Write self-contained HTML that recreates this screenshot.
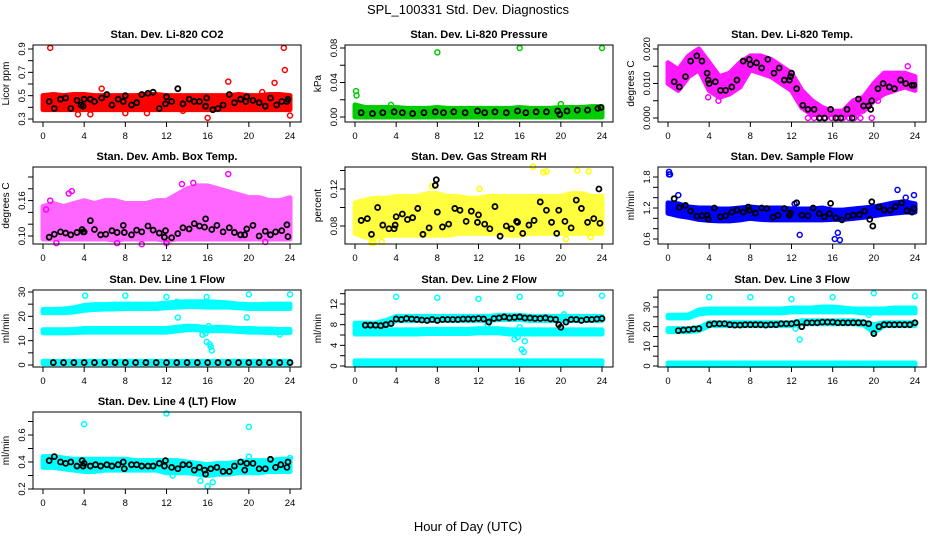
<!DOCTYPE html>
<html><head><meta charset="utf-8">
<style>
html,body{margin:0;padding:0;background:#fff;}
svg{display:block;font-family:"Liberation Sans",sans-serif;}
</style></head>
<body>
<svg id="chart" width="936" height="540" viewBox="0 0 936 540" xmlns="http://www.w3.org/2000/svg">
<text x="468" y="14" text-anchor="middle" font-size="13">SPL_100331  Std. Dev. Diagnostics</text>
<text x="468" y="531" text-anchor="middle" font-size="13">Hour of Day (UTC)</text>
</svg>
<script>
const bandHours = [0,1,2,3,4,5,6,7,8,9,10,11,12,13,14,15,16,17,18,19,20,21,22,23,24];
const xTicks = [0,4,8,12,16,20,24];

// Panel 1: CO2
const co2Lo = [0.38,0.38,0.38,0.38,0.38,0.38,0.38,0.38,0.38,0.38,0.38,0.38,0.38,0.38,0.38,0.38,0.38,0.38,0.38,0.38,0.38,0.38,0.38,0.38,0.38];
const co2Hi = [0.50,0.51,0.50,0.51,0.51,0.50,0.50,0.50,0.50,0.50,0.51,0.51,0.50,0.50,0.50,0.50,0.50,0.50,0.50,0.51,0.50,0.50,0.51,0.51,0.50];
const co2OutX = [0.7,23.4,23.5,22.5,18,24,16,3.4,4.6,5.7,10.1,8,13.6,21.3];
const co2OutY = [0.91,0.91,0.72,0.61,0.62,0.33,0.31,0.34,0.34,0.56,0.35,0.35,0.37,0.53];
const co2BlkX = [0.6,1.1,1.7,2.2,2.7,3.3,3.7,3.9,4,4.6,5,5.7,6.2,6.7,7.3,7.8,8,8.6,9.1,9.6,10.2,10.7,11.3,11.9,12,12.5,13.1,13.6,14.2,14.7,15.2,15.8,15.9,16.5,17,17.5,18.1,18.6,19.2,19.7,19.8,20.4,21,21.6,22.1,22.7,23.2,23.7,23.8];
const co2BlkY = [0.45,0.39,0.47,0.48,0.39,0.46,0.42,0.41,0.47,0.47,0.45,0.48,0.51,0.42,0.47,0.45,0.50,0.42,0.44,0.51,0.52,0.53,0.39,0.43,0.49,0.45,0.56,0.43,0.47,0.45,0.45,0.41,0.48,0.38,0.39,0.42,0.51,0.44,0.47,0.45,0.49,0.46,0.44,0.41,0.48,0.42,0.45,0.45,0.47];

// Panel 2: Pressure
const presLo = [0,0,0,0,0,0,0,0,0,0,0,0,0,0,0,0,0,0,0,0,0,0,0,0,0];
const presHi = [0.014,0.011,0.011,0.011,0.011,0.010,0.010,0.010,0.011,0.010,0.010,0.010,0.010,0.010,0.010,0.010,0.011,0.010,0.010,0.010,0.011,0.011,0.011,0.012,0.012];
const presOutX = [8,16,24,0.1,0.15,3.5,20];
const presOutY = [0.075,0.08,0.08,0.03,0.025,0.014,0.015];
const presBlkX = [0.6,1.7,2.7,3.8,4.6,5.6,6.7,7.8,8.6,9.6,10.7,11.9,12.6,13.6,14.7,15.8,16.6,17.6,18.6,19.7,19.9,20.6,21.6,22.6,23.6,23.9];
const presBlkY = [0.005,0.004,0.005,0.006,0.005,0.004,0.005,0.006,0.005,0.006,0.005,0.007,0.005,0.006,0.005,0.007,0.005,0.006,0.006,0.007,0.003,0.007,0.008,0.008,0.010,0.011];

// Panel 3: Li-820 Temp
const tmpLo = [0.010,0.008,0.012,0.014,0.008,0.006,0.007,0.009,0.014,0.013,0.012,0.010,0.008,0.003,0.001,0.001,0.001,0.001,0.001,0.002,0.005,0.007,0.008,0.009,0.008];
const tmpHi = [0.016,0.014,0.018,0.020,0.016,0.012,0.013,0.016,0.018,0.018,0.017,0.015,0.013,0.008,0.005,0.003,0.002,0.002,0.005,0.006,0.010,0.013,0.013,0.013,0.012];
const tmpOutX = [13.6,14.2,14.8,15.3,15.9,16.5,17,17.6,18.1,18.7,19.8,2.6,23.3,3.9,4.9,20.4];
const tmpOutY = [0,0,0,0,0,0,0,0,0,0,0,0.019,0.015,0.006,0.005,0.005];
const tmpBlkX = [0.6,1.1,1.7,2.2,2.8,3.3,3.8,3.9,4,4.6,5.1,5.6,6.2,6.7,7.3,7.9,8,8.6,9.1,9.7,10.3,10.8,11.3,11.8,11.9,12,12.5,13.1,13.6,14.2,14.7,15.2,15.8,16.3,16.8,17.4,17.9,18.5,19,19.5,19.7,19.8,20.4,20.9,21.5,22,22.6,23.1,23.7,23.9];
const tmpBlkY = [0.0105,0.009,0.012,0.0165,0.018,0.0165,0.013,0.011,0.010,0.0105,0.008,0.008,0.009,0.011,0.0165,0.017,0.0155,0.016,0.0145,0.017,0.013,0.0145,0.011,0.011,0.012,0.013,0.0085,0.0037,0.0025,0.0025,0,0,0.0025,0,0,0.0025,0,0.0055,0.0035,0.0035,0.0025,0.005,0.0085,0.010,0.009,0.0085,0.011,0.010,0.0095,0.0095];

// Panel 4: Amb. Box Temp
const ambLo = [0.095,0.095,0.095,0.095,0.095,0.095,0.095,0.093,0.095,0.095,0.095,0.095,0.092,0.095,0.095,0.095,0.095,0.095,0.095,0.095,0.095,0.095,0.095,0.095,0.095];
const ambHi = [0.150,0.155,0.150,0.155,0.160,0.155,0.160,0.160,0.155,0.155,0.155,0.160,0.160,0.170,0.180,0.185,0.185,0.180,0.175,0.170,0.165,0.165,0.160,0.160,0.165];
const ambOutX = [2.5,2.8,18,14.6,13.5,0.3,0.7,12,21.6,1.3,7.2,9.6];
const ambOutY = [0.172,0.176,0.205,0.19,0.188,0.145,0.16,0.088,0.09,0.088,0.088,0.086];
const ambBlkX = [0.6,1.1,1.7,2.2,2.7,3.3,3.8,3.9,4,4.6,5,5.6,6.1,6.7,7.2,7.8,7.9,8.6,9.1,9.6,10.2,10.7,11.3,11.8,11.9,12.5,13.1,13.6,14.2,14.7,15.2,15.7,15.8,16.4,16.9,17.5,18.1,18.6,19.2,19.6,19.8,20.4,21,21.6,22.1,22.6,23.2,23.7,23.8];
const ambBlkY = [0.098,0.103,0.107,0.105,0.102,0.106,0.111,0.107,0.107,0.126,0.111,0.102,0.103,0.109,0.106,0.118,0.106,0.102,0.110,0.107,0.117,0.110,0.105,0.098,0.109,0.097,0.104,0.114,0.112,0.121,0.117,0.115,0.129,0.111,0.118,0.107,0.114,0.106,0.102,0.102,0.112,0.118,0.100,0.108,0.102,0.107,0.109,0.119,0.099];

// Panel 5: Gas Stream RH
const rhLo = [0.072,0.068,0.068,0.070,0.070,0.070,0.070,0.070,0.070,0.070,0.072,0.072,0.072,0.072,0.072,0.070,0.070,0.072,0.072,0.072,0.072,0.072,0.072,0.072,0.072];
const rhHi = [0.105,0.108,0.110,0.110,0.112,0.112,0.112,0.115,0.115,0.112,0.112,0.110,0.110,0.112,0.112,0.112,0.112,0.112,0.112,0.112,0.112,0.115,0.115,0.112,0.112];
const rhOutX = [17.3,18.3,18.6,21.6,22.7,1.6,1.8,2.6,7.5,12.1,20.5,22.9];
const rhOutY = [0.144,0.138,0.139,0.14,0.139,0.062,0.062,0.063,0.123,0.12,0.066,0.068];
const rhBlkX = [0.6,1.2,1.6,2.2,2.7,3.3,3.8,3.9,4.0,4.6,5.1,5.6,6.1,6.6,7.2,7.8,7.9,8.0,8.5,9.1,9.7,10.2,10.8,11.3,11.9,12,12.6,13.1,13.6,14.1,14.7,15.2,15.7,15.8,16.3,16.9,17.4,18,18.6,19.1,19.6,19.8,20.4,21.0,21.5,22.0,22.6,23.2,23.7,23.8];
const rhBlkY = [0.086,0.088,0.071,0.10,0.081,0.077,0.077,0.081,0.090,0.093,0.087,0.089,0.099,0.071,0.078,0.124,0.13,0.095,0.079,0.082,0.099,0.097,0.085,0.096,0.084,0.092,0.082,0.077,0.101,0.069,0.080,0.077,0.085,0.084,0.072,0.081,0.086,0.106,0.097,0.084,0.072,0.097,0.085,0.078,0.108,0.099,0.084,0.088,0.12,0.083];

// Panel 6: Sample Flow
const sfLo = [1.10,1.05,1.02,0.98,0.96,0.95,0.95,0.97,1.00,0.98,0.97,0.97,0.97,0.97,0.97,0.97,0.98,0.98,1.00,1.02,1.05,1.08,1.10,1.12,1.12];
const sfHi = [1.30,1.28,1.22,1.20,1.20,1.18,1.18,1.20,1.22,1.20,1.20,1.20,1.18,1.18,1.18,1.20,1.16,1.16,1.18,1.20,1.22,1.26,1.30,1.32,1.28];
const sfOutX = [0.1,0.1,1,22.3,23.9,12.8,16.2,16.5,16.7,23.1,0.2,12.3];
const sfOutY = [1.9,1.85,1.45,1.55,1.45,0.68,0.6,0.72,0.58,1.40,1.85,1.28];
const sfBlkX = [0.6,1.1,1.7,2.2,2.8,3.3,3.8,3.9,4.5,5.1,5.6,6.2,6.7,7.3,7.8,7.9,8.5,9.1,9.6,10.2,10.7,11.3,11.8,11.9,12.5,13,13.6,14.1,14.7,15.2,15.7,15.8,16.3,16.9,17.5,18,18.6,19.1,19.6,19.8,19.9,20.5,21,21.6,22.1,22.7,23.2,23.7,23.9];
const sfBlkY = [1.38,1.21,1.25,1.14,1.04,1.05,1.06,0.99,1.20,1.03,1.05,1.12,1.16,1.12,1.22,1.16,1.10,1.20,1.19,1.02,1.06,1.19,1.06,1.10,1.30,1.06,1.05,1.20,1.09,1.03,1.09,1.29,1.01,0.97,1.04,1.06,1.07,1.14,0.98,1.32,0.85,1.22,1.16,1.16,1.23,1.30,1.15,1.12,1.19];

// Panel 7: Line 1 Flow
const l1aLo = [21.5,21.5,21.5,21.8,22.5,22.8,23,23,23.2,23.2,23.2,23.2,23.5,23.8,24,24,23.8,23.8,23.8,23.5,23.2,23.2,23.2,23.2,23.2];
const l1aHi = [22.8,22.8,23,23.5,24.5,24.8,24.8,25,25,25,25,25,25.5,25.8,26,26,26,25.8,25.5,25,24.8,24.8,25,25,25];
const l1bLo = [13.2,13.2,13.2,13.3,13.5,13.5,13.5,13.5,13.5,13.5,13.5,13.5,13.5,14,14.5,14.5,14,14.2,14,13.8,13.5,13.5,13.3,13.3,13.3];
const l1bHi = [14.5,14.5,14.5,14.6,15,15,15,15,15,15,15,15,15,15.5,16,15.8,15.2,15.5,15.3,15,15,14.8,14.8,14.6,14.6];
const l1cLo = [0.5,0.5,0.5,0.5,0.5,0.5,0.5,0.5,0.5,0.5,0.5,0.5,0.5,0.5,0.5,0.5,0.5,0.5,0.5,0.5,0.5,0.5,0.5,0.5,0.5];
const l1cHi = [1.5,1.5,1.5,1.5,1.5,1.5,1.5,1.5,1.5,1.5,1.5,1.5,1.5,1.5,1.5,1.5,1.5,1.5,1.5,1.5,1.5,1.5,1.5,1.5,1.5];
const l1OutX = [4.1,8,12,15.9,20,24,13,13.1,19.8,16.1,15.8,15.9,16.2,16.3,16.4,23,15.5];
const l1OutY = [28.5,28.5,28,28,29,29,26,19.5,19.5,16,13,9.5,8.5,7.5,6,12.5,12.5];
const l1BlkX = [1,2,3,4,5,6,7,8,9,10,11,12,13,14,15,16,17,18,19,20,21,22,23,24];
const l1BlkY = [1,1,1,1,1,1,1,1,1,1,1,1,1,1,1,1,1,1,1,1,1,1,1,1];

// Panel 8: Line 2 Flow
const l2aLo = [7.5,7.5,7.5,8,8.8,8.8,8.8,8.8,8.8,8.8,8.8,8.8,8.8,8.8,9,9,9,8.8,8.8,8.8,8.8,8.8,8.8,8.8,8.8];
const l2aHi = [8.3,8.3,8.3,8.8,9.6,9.6,9.6,9.6,9.6,9.6,9.6,9.6,9.6,9.6,9.8,9.8,9.8,9.6,9.6,9.6,9.6,9.6,9.6,9.6,9.6];
const l2bLo = [6.2,6.2,6.2,6.2,6.2,6.2,6.2,6.3,6.3,6.3,6.3,6.3,6.4,6.4,6.4,6.2,6.2,6.2,6.2,6.2,6.2,6.2,6.2,6.2,6.2];
const l2bHi = [7,7,7,7,7,7,7,7.1,7.1,7.1,7.1,7.1,7.2,7.2,7.2,7.0,7.0,7.0,7.0,7.0,7.0,7.0,7.0,7.0,7.0];
const l2cLo = [0.3,0.3,0.3,0.3,0.3,0.3,0.3,0.3,0.3,0.3,0.3,0.3,0.3,0.3,0.3,0.3,0.3,0.3,0.3,0.3,0.3,0.3,0.3,0.3,0.3];
const l2cHi = [1,1,1,1,1,1,1,1,1,1,1,1,1,1,1,1,1,1,1,1,1,1,1,1,1];
const l2OutX = [4,8,12,16,20,24,15.5,15.8,16,16.2,16.4,16.5,20.3,12.9];
const l2OutY = [13.4,13.2,13,13.4,14,13.6,5.2,5.6,7.5,3.2,2.7,4.8,10,8];
const l2BlkX = [1,1.5,2,2.5,3,3.5,4,4.5,5,5.5,6,6.5,7,7.5,8,8.5,9,9.5,10,10.5,11,11.5,12,12.5,13,13.5,14,14.5,15,15.5,16,16.5,17,17.5,18,18.5,19,19.5,19.8,20,20.5,21,21.5,22,22.5,23,23.5,24];
const l2BlkY = [7.9,7.9,7.9,7.8,8,8.2,9.1,9,9.2,9.1,9,8.9,8.8,9,8.8,9,9,9,9,9.1,9.1,9.1,9.2,9.1,8.5,9.2,9.3,9.5,9.3,9.4,9.5,9.3,9.3,9.2,9.2,9.3,9.1,9,8,7.5,8.5,9,9,8.8,9,9,9.1,9.2];

// Panel 9: Line 3 Flow
const l3aLo = [24.5,24.5,24.5,26.5,27,27,27,27,27,27,27,27,27.5,27.5,27.5,27.5,27.5,27.5,27.5,27,27,27,27,27,27];
const l3aHi = [25.8,25.8,26,28.5,29,29,29,29,29,29,29,29,29.5,29.5,29.5,30,30,29.5,29,29,29,29,29.5,29.5,29.5];
const l3bLo = [17.5,17.5,17.5,18,20.5,20.5,20.5,20.5,20.5,20.5,20.5,20.5,20.5,21.5,21.5,21.5,21.5,21.5,21.5,21,17,20.5,20.5,20.5,20.5];
const l3bHi = [19,19,19,19.5,22,22,22,22,22,22,22,22,22,23,23,23,23,23,23,22.5,21,22,22,22,22];
const l3cLo = [0.3,0.3,0.3,0.3,0.3,0.3,0.3,0.3,0.3,0.3,0.3,0.3,0.3,0.3,0.3,0.3,0.3,0.3,0.3,0.3,0.3,0.3,0.3,0.3,0.3];
const l3cHi = [1.5,1.5,1.5,1.5,1.5,1.5,1.5,1.5,1.5,1.5,1.5,1.5,1.5,1.5,1.5,1.5,1.5,1.5,1.5,1.5,1.5,1.5,1.5,1.5,1.5];
const l3OutX = [4,8,12,16,20,24,12.8,20,12.4,19.5];
const l3OutY = [35,35,34,35,37,35.5,13.5,17,19,26];
const l3BlkX = [1,1.5,2,2.5,3,4,4.5,5,5.5,6,6.5,7,7.5,8,8.5,9,9.5,10,10.5,11,11.5,12,12.5,13,13.5,14,14.5,15,15.5,16,16.5,17,17.5,18,18.5,19,19.5,20,20.5,21,21.5,22,22.5,23,23.5,24];
const l3BlkY = [18,18.3,18.5,18.8,19,21,21.5,21.5,21.5,21,20.8,20.8,21,21,21,21,20.8,21,21,21.5,21.5,21.5,22,20,22,22,22,22.3,22.3,22.3,22,22,22,22,22,22,21.5,16.5,20,21,21,21,21,21,21,22];

// Panel 10: Line 4 (LT) Flow
const l4Lo = [0.36,0.36,0.35,0.34,0.33,0.33,0.34,0.34,0.34,0.34,0.34,0.34,0.32,0.32,0.32,0.31,0.30,0.31,0.31,0.32,0.32,0.32,0.33,0.33,0.33];
const l4Hi = [0.44,0.44,0.43,0.42,0.42,0.42,0.42,0.42,0.42,0.41,0.41,0.41,0.41,0.41,0.40,0.39,0.38,0.39,0.39,0.40,0.41,0.41,0.41,0.42,0.42];
const l4OutX = [4,12,20,16,16.5,15.3,12.6,20,24];
const l4OutY = [0.68,0.76,0.66,0.22,0.25,0.26,0.30,0.44,0.43];
const l4BlkX = [0.6,1.1,1.7,2.2,2.7,3.3,3.8,3.9,4,4.6,5.1,5.6,6.2,6.7,7.3,7.8,7.9,8.6,9.1,9.6,10.2,10.7,11.3,11.8,11.9,12.5,13.1,13.6,14.2,14.7,15.2,15.7,15.8,16.3,16.9,17.5,18.1,18.6,19.2,19.6,19.8,20.4,21,21.6,22.1,22.6,23.1,23.7,23.8];
const l4BlkY = [0.41,0.44,0.40,0.39,0.40,0.37,0.41,0.37,0.39,0.37,0.38,0.37,0.38,0.37,0.38,0.40,0.35,0.38,0.38,0.37,0.37,0.37,0.39,0.37,0.41,0.36,0.35,0.38,0.38,0.34,0.36,0.34,0.31,0.35,0.36,0.33,0.33,0.37,0.40,0.34,0.39,0.39,0.35,0.35,0.42,0.36,0.38,0.36,0.40];

// Axis ticks
const yt1 = [0.3,0.4,0.5,0.6,0.7,0.8,0.9], yl1 = ["0.3","0.5","0.7","0.9"];
const yt2 = [0,0.02,0.04,0.06,0.08], yl2 = ["0.00","0.04","0.08"];
const yt3 = [0,0.005,0.01,0.015,0.02], yl3 = ["0.000","0.010","0.020"];
const yt4 = [0.10,0.12,0.14,0.16,0.18,0.20], yl4 = ["0.10","0.16"];
const yt5 = [0.08,0.10,0.12,0.14], yl5 = ["0.08","0.12"];
const yt6 = [0.6,0.8,1.0,1.2,1.4,1.6,1.8], yl6 = ["0.6","1.2","1.8"];
const yt7 = [0,5,10,15,20,25,30], yl7 = ["0","10","20","30"];
const yt8 = [0,2,4,6,8,10,12,14], yl8 = ["0","4","8","12"];
const yt9 = [0,5,10,15,20,25,30,35], yl9 = ["0","10","20","30"];
const yt10 = [0.2,0.3,0.4,0.5,0.6,0.7], yl10 = ["0.2","0.4","0.6"];

const NS = "http://www.w3.org/2000/svg";
const svg = document.getElementById('chart');
function mk(tag, attrs, parent){ const e=document.createElementNS(NS,tag); for(const k in attrs) e.setAttribute(k,attrs[k]); (parent||svg).appendChild(e); return e; }

const colLeft = [33,345,658], rowTop = [45,167,290,412], boxW = 268, boxH = 77;

function panel(key, col, row, title, ylabel, v0, r0, v1, r1, ticks, labels, bands, color, outX, outY, blkX, blkY, bandOpacity){
  const L = colLeft[col], T = rowTop[row];
  const g = mk('g', {});
  
  
  const xs = h => L + 10 + h * 247 / 24;
  const ys = v => T + r0 + (v - v0) * (r1 - r0) / (v1 - v0);
  const t = mk('text', {x: L + boxW/2, y: T - 7, 'text-anchor':'middle', 'font-size':'11', 'font-weight':'bold'}, g);
  t.textContent = title;
  
  
  const yl = mk('text', {transform:`translate(${L-24},${T+boxH/2}) rotate(-90)`, 'text-anchor':'middle', 'font-size':'10'}, g);
  yl.textContent = ylabel;
  
  
  bands.forEach((b, bi) => {
    let pts = [];
    bandHours.forEach((h,i) => pts.push(xs(h)+','+ys(b[1][i])));
    for (let i = bandHours.length-1; i >= 0; i--) pts.push(xs(bandHours[i])+','+ys(b[0][i]));
    const p = mk('polygon', {points: pts.join(' '), fill: color, stroke: color, 'stroke-width': 5, 'stroke-linejoin':'round', opacity: bandOpacity}, g);
    
    
  });
  outX.forEach((h,i) => {
    const c = mk('circle', {cx: xs(h), cy: ys(outY[i]), r: 2.5, fill:'none', stroke: color, 'stroke-width': 1.5}, g);
    
    
  });
  blkX.forEach((h,i) => {
    const c = mk('circle', {cx: xs(h), cy: ys(blkY[i]), r: 2.5, fill:'none', stroke: '#000', 'stroke-width': 1.8}, g);
    
    
  });
  const box = mk('rect', {x: L, y: T, width: boxW, height: boxH, fill:'none', stroke:'#000', 'stroke-width':1}, g);
  
  
  mk('line', {x1: xs(0), x2: xs(24), y1: T+boxH, y2: T+boxH, stroke:'#000'}, g);
  xTicks.forEach(h => {
    mk('line', {x1: xs(h), x2: xs(h), y1: T+boxH, y2: T+boxH+5, stroke:'#000'}, g);
    const tx = mk('text', {x: xs(h), y: T+boxH+17, 'text-anchor':'middle', 'font-size':'9.5'}, g);
    tx.textContent = h;
    
    
  });
  ticks.forEach(v => {
    mk('line', {x1: L-5, x2: L, y1: ys(v), y2: ys(v), stroke:'#000'}, g);
  });
  mk('line', {x1: L, x2: L, y1: ys(ticks[0]), y2: ys(ticks[ticks.length-1]), stroke:'#000'}, g);
  labels.forEach(s => {
    const v = parseFloat(s);
    const ty = mk('text', {transform:`translate(${L-8},${ys(v)}) rotate(-90)`, 'text-anchor':'middle', 'font-size':'9.5'}, g);
    ty.textContent = s;
    
    
  });
}

panel('co2',0,0,'Stan. Dev. Li-820 CO2','Licor ppm',0.3,74,0.9,4,yt1,yl1,[[co2Lo,co2Hi]],'#ff0000',co2OutX,co2OutY,co2BlkX,co2BlkY,1);
panel('pressure',1,0,'Stan. Dev. Li-820 Pressure','kPa',0,72,0.08,3,yt2,yl2,[[presLo,presHi]],'#00cc00',presOutX,presOutY,presBlkX,presBlkY,1);
panel('li820-temp',2,0,'Stan. Dev. Li-820 Temp.','degrees C',0,73,0.02,4,yt3,yl3,[[tmpLo,tmpHi]],'#ff00ff',tmpOutX,tmpOutY,tmpBlkX,tmpBlkY,0.9);
panel('amb-box-temp',0,1,'Stan. Dev. Amb. Box Temp.','degrees C',0.10,69,0.20,10,yt4,yl4,[[ambLo,ambHi]],'#ff00ff',ambOutX,ambOutY,ambBlkX,ambBlkY,0.6);
panel('gas-rh',1,1,'Stan. Dev. Gas Stream RH','percent',0.08,59,0.12,22,yt5,yl5,[[rhLo,rhHi]],'#ffff00',rhOutX,rhOutY,rhBlkX,rhBlkY,0.75);
panel('sample-flow',2,1,'Stan. Dev. Sample Flow','ml/min',0.6,72,1.8,10,yt6,yl6,[[sfLo,sfHi]],'#0000ff',sfOutX,sfOutY,sfBlkX,sfBlkY,1);
panel('line1-flow',0,2,'Stan. Dev. Line 1 Flow','ml/min',0,75,30,2,yt7,yl7,[[l1aLo,l1aHi],[l1bLo,l1bHi],[l1cLo,l1cHi]],'#00ffff',l1OutX,l1OutY,l1BlkX,l1BlkY,1);
panel('line2-flow',1,2,'Stan. Dev. Line 2 Flow','ml/min',0,76,12,14,yt8,yl8,[[l2aLo,l2aHi],[l2bLo,l2bHi],[l2cLo,l2cHi]],'#00ffff',l2OutX,l2OutY,l2BlkX,l2BlkY,1);
panel('line3-flow',2,2,'Stan. Dev. Line 3 Flow','ml/min',0,76,30,17,yt9,yl9,[[l3aLo,l3aHi],[l3bLo,l3bHi],[l3cLo,l3cHi]],'#00ffff',l3OutX,l3OutY,l3BlkX,l3BlkY,1);
panel('line4-flow',0,3,'Stan. Dev. Line 4 (LT) Flow','ml/min',0.2,77,0.6,23,yt10,yl10,[[l4Lo,l4Hi]],'#00ffff',l4OutX,l4OutY,l4BlkX,l4BlkY,1);
</script>
</body></html>
